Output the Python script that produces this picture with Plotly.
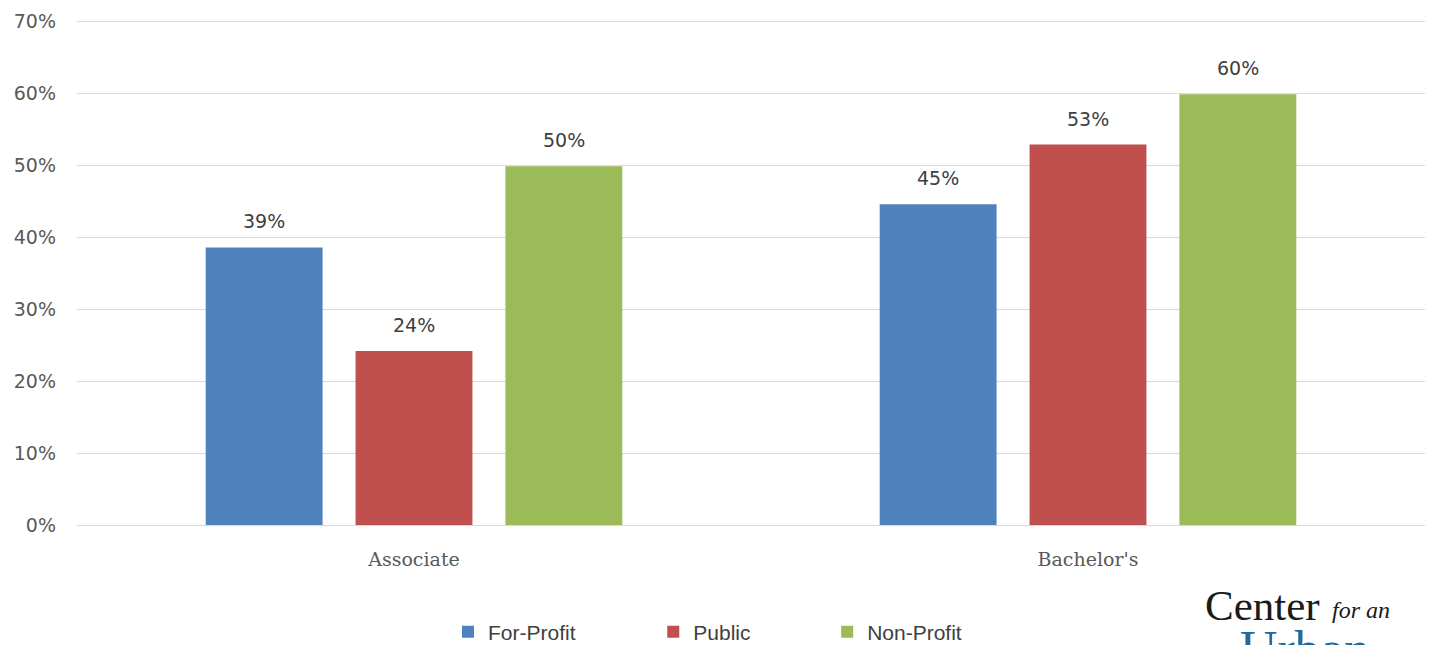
import plotly.graph_objects as go

categories = ["Associate", "Bachelor's"]
series_names = ["For-Profit", "Public", "Non-Profit"]
for_profit = [38.6, 44.6]
public = [24.2, 52.9]
non_profit = [49.9, 59.9]
colors = ["#4f81bd", "#c0504d", "#9bbb59"]
tick_vals = [0, 10, 20, 30, 40, 50, 60, 70]
tick_text = ["0%", "10%", "20%", "30%", "40%", "50%", "60%", "70%"]

series_values = [for_profit, public, non_profit]
legend_ids = ["legend", "legend2", "legend3"]
legend_x = [0.2752, 0.4275, 0.5565]
bar_slot_px = 150  # horizontal offset of each bar within the group (pixels)

fig = go.Figure()
annotations = []
for i, (name, vals, col, lid) in enumerate(zip(series_names, series_values, colors, legend_ids)):
    fig.add_trace(go.Bar(
        x=categories, y=vals, name=name, marker=dict(color=col, line=dict(width=0)),
        legend=lid, hoverinfo="x+y+name",
    ))
    for cat, v in zip(categories, vals):
        annotations.append(dict(
            x=cat, y=v, xref="x", yref="y", text=f"{v:.0f}%", showarrow=False,
            xanchor="center", yanchor="bottom", xshift=(i - 1) * bar_slot_px, yshift=13,
            font=dict(family="DejaVu Sans", size=19, color="#404040"),
        ))

legend_common = dict(orientation="h", yanchor="middle", y=-0.211, xanchor="left",
                     font=dict(family="Liberation Sans", size=21, color="#404040"),
                     itemwidth=30, bgcolor="rgba(0,0,0,0)", borderwidth=0)

annotations += [
    dict(text="Center", xref="paper", yref="paper", x=0.835, y=-0.108, xanchor="left", yanchor="top",
         showarrow=False, font=dict(family="Liberation Serif", size=43, color="#1a1a1a")),
    dict(text="<i>for an</i>", xref="paper", yref="paper", x=0.9295, y=-0.139, xanchor="left", yanchor="top",
         showarrow=False, font=dict(family="Liberation Serif", size=24, color="#1a1a1a")),
    dict(text="Urban", xref="paper", yref="paper", x=0.861, y=-0.1855, xanchor="left", yanchor="top",
         showarrow=False, font=dict(family="Liberation Serif", size=52, color="#1f6b9e")),
]

# the page adds an 8px body margin, so the figure margins are shifted by 8px
fig.update_layout(
    width=1434, height=645,
    margin=dict(l=69, r=17, t=10, b=128, autoexpand=False),
    paper_bgcolor="white", plot_bgcolor="white",
    barmode="group", bargap=0.333, bargroupgap=0.22,
    showlegend=True,
    legend=dict(x=legend_x[0], **legend_common),
    legend2=dict(x=legend_x[1], **legend_common),
    legend3=dict(x=legend_x[2], **legend_common),
    xaxis=dict(range=[-0.5, 1.5], showgrid=False, showline=False, zeroline=False, automargin=False,
               ticks="outside", ticklen=17, tickcolor="rgba(0,0,0,0)",
               tickfont=dict(family="DejaVu Serif", size=19, color="#595959")),
    yaxis=dict(range=[0, 70.5], tickvals=tick_vals, ticktext=tick_text, automargin=False,
               showgrid=True, gridcolor="#d9d9d9", gridwidth=1.2,
               zeroline=True, zerolinecolor="#d9d9d9", zerolinewidth=1.2,
               showline=False, ticklabelstandoff=20,
               tickfont=dict(family="DejaVu Sans", size=19, color="#595959")),
    font=dict(family="DejaVu Sans"),
    annotations=annotations,
)

fig.write_html("out.html")
